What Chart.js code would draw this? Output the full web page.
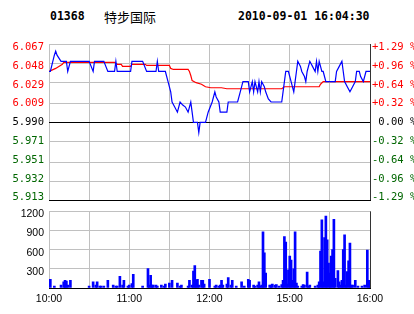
<!DOCTYPE html>
<html>
<head>
<meta charset="utf-8">
<script src="https://cdn.jsdelivr.net/npm/chart.js@4/dist/chart.umd.min.js"></script>
<style>
  html, body { margin: 0; padding: 0; background: #fff; }
  #wrap { position: relative; width: 414px; height: 314px; overflow: hidden; }
  #wrap canvas { position: absolute; left: 0; }
  #priceChart { top: 0; }
  #volChart { top: 200px; }
  .head { position: absolute; top: 9px; font: bold 11.5px "DejaVu Sans Mono", monospace; color: #000; white-space: pre; }
  .name { top: 7px; font: 13px "Noto Sans CJK SC", sans-serif; }
</style>
</head>
<body>
<div id="wrap">
  <span class="head" style="left:50px">01368</span>
  <span class="head name" style="left:104px">特步国际</span>
  <span class="head" style="left:238px">2010-09-01 16:04:30</span>
  <canvas id="priceChart" width="414" height="212"></canvas>
  <canvas id="volChart" width="414" height="114"></canvas>
</div>
<script>
(function(){
  'use strict';

  // previous close and axis labels (bottom to top)
  const preClose = 5.99;
  const priceLabels = ['5.913', '5.932', '5.951', '5.971', '5.990', '6.009', '6.029', '6.048', '6.067'];
  const pctLabels = ['-1.29 %', '-0.96 %', '-0.64 %', '-0.32 %', ' 0.00 %', '+0.32 %', '+0.64 %', '+0.96 %', '+1.29 %'];
  const volMax = 1200;
  const timeLabels = ['10:00', '11:00', '12:00', '15:00', '16:00'];
  const timeTicks = [0, 60, 120, 180, 240];

  // minute index (0 = 10:00, 150 = 12:30/14:30, 240 = 16:00) and price
  const priceIdx = [0, 1, 4, 5, 6, 9, 13, 14, 16, 30, 33, 34, 41, 44, 49, 50, 51, 61, 62, 70,
    73, 80, 81, 82, 87, 89, 91, 92, 94, 96, 98, 100, 102, 104, 106, 107, 108, 111, 112, 113,
    117, 119, 122, 124, 125, 127, 128, 133, 134, 141, 143, 145, 149, 150, 152, 153, 154, 156, 157, 158,
    159, 161, 162, 164, 166, 174, 175, 176, 177, 179, 181, 183, 184, 185, 186, 188, 189, 191, 192, 193,
    195, 197, 199, 200, 201, 202, 204, 205, 207, 214, 215, 217, 219, 220, 221, 223, 225, 227, 229, 230,
    232, 233, 235, 237, 240];
  const priceVal = [6.04, 6.04, 6.056, 6.06, 6.056, 6.05, 6.05, 6.04, 6.05, 6.05, 6.04, 6.05, 6.05, 6.04, 6.04, 6.05, 6.04, 6.04, 6.05, 6.05,
    6.04, 6.04, 6.05, 6.04, 6.04, 6.03, 6.02, 6.01, 6.005, 6.00, 6.01, 6.007, 6.005, 6.00, 6.01, 6.00, 5.99, 5.99, 5.98, 5.99,
    5.99, 6.00, 6.01, 6.02, 6.015, 6.01, 6.00, 6.00, 6.01, 6.01, 6.02, 6.03, 6.03, 6.02, 6.03, 6.02, 6.03, 6.02, 6.03, 6.02,
    6.03, 6.025, 6.02, 6.013, 6.01, 6.01, 6.02, 6.03, 6.04, 6.04, 6.03, 6.02, 6.03, 6.04, 6.05, 6.045, 6.04, 6.035, 6.03, 6.04,
    6.05, 6.045, 6.04, 6.05, 6.04, 6.05, 6.04, 6.04, 6.03, 6.03, 6.04, 6.045, 6.05, 6.04, 6.03, 6.025, 6.02, 6.025, 6.03, 6.04,
    6.04, 6.035, 6.03, 6.04, 6.04];

  // average price
  const avgIdx = [0, 5, 10, 11, 49, 51, 54, 55, 61, 62, 72, 73, 90, 91, 93, 104, 105, 106, 107, 110,
    114, 117, 121, 129, 133, 174, 175, 176, 202, 203, 205, 240];
  const avgVal = [6.040, 6.043, 6.047, 6.049, 6.049, 6.047, 6.047, 6.045, 6.045, 6.047, 6.047, 6.046, 6.046, 6.043, 6.042, 6.042, 6.040, 6.036, 6.031, 6.029,
    6.0275, 6.025, 6.024, 6.024, 6.023, 6.023, 6.024, 6.025, 6.025, 6.0275, 6.030, 6.030];

  // volume per minute
  const volIdx = [1, 4, 9, 11, 12, 13, 14, 16, 30, 33, 35, 36, 38, 39, 41, 44, 48, 50, 51, 53,
    55, 56, 59, 60, 62, 63, 70, 74, 75, 76, 77, 78, 80, 81, 84, 86, 87, 90, 92, 96,
    98, 99, 104, 105, 107, 108, 109, 110, 111, 112, 114, 115, 116, 120, 124, 125, 127, 128, 129, 130,
    133, 134, 136, 137, 140, 144, 146, 149, 150, 153, 154, 156, 157, 158, 159, 160, 161, 162, 165, 166,
    167, 169, 170, 172, 174, 175, 176, 177, 178, 179, 180, 181, 182, 183, 184, 185, 186, 189, 190, 191,
    193, 194, 195, 199, 201, 202, 203, 204, 205, 206, 207, 208, 209, 210, 211, 212, 213, 214, 216, 217,
    218, 219, 220, 221, 222, 223, 224, 225, 226, 227, 229, 231, 234, 236, 238, 239, 240];
  const volVal = [137, 30, 45, 95, 120, 110, 45, 120, 30, 95, 45, 95, 30, 30, 30, 120, 45, 30, 30, 182,
    45, 120, 30, 45, 71, 213, 30, 304, 45, 198, 45, 45, 45, 30, 45, 30, 60, 76, 120, 76,
    30, 45, 30, 120, 45, 263, 350, 120, 137, 45, 120, 120, 60, 137, 30, 45, 30, 45, 120, 45,
    60, 162, 45, 120, 30, 95, 30, 137, 120, 45, 30, 45, 95, 30, 45, 880, 552, 233, 45, 45,
    60, 45, 55, 30, 55, 120, 805, 720, 60, 284, 500, 435, 120, 299, 880, 76, 30, 30, 55, 45,
    248, 30, 45, 30, 45, 95, 577, 1068, 95, 790, 1124, 755, 390, 233, 500, 603, 1074, 150, 274, 95,
    45, 120, 603, 831, 45, 258, 425, 703, 45, 45, 120, 30, 30, 45, 592, 120, 95];

  const gridGrey = '#c0c0c0';
  const monoFont = { family: 'DejaVu Sans Mono', size: 10.5 };
  const sansFont = { family: 'Liberation Sans', size: 10.5 };

  function labelColor(i) {
    if (i > 4) return '#ff0000';
    if (i < 4) return '#006600';
    return '#000000';
  }

  function points(xs, ys) {
    return xs.map((x, i) => ({ x: x, y: ys[i] }));
  }

  function timeAxis(showLabels) {
    return {
      type: 'linear',
      min: 0,
      max: 240,
      offset: false,
      grid: {
        offset: false,
        drawTicks: false,
        color: (ctx) => ctx.tick && ctx.tick.value === 240 ? '#333333' : gridGrey
      },
      border: { display: true, color: '#000000' },
      ticks: {
        display: showLabels,
        stepSize: 30,
        autoSkip: false,
        maxRotation: 0,
        padding: 5,
        color: '#000000',
        font: sansFont,
        callback: (v) => {
          const k = timeTicks.indexOf(v);
          return k >= 0 ? timeLabels[k] : '';
        }
      },
      afterFit: (s) => { s.height = showLabels ? 26 : 0; }
    };
  }

  // labels sit on a slightly squeezed scale so the end ones stay inside the panel
  function labelAxis(position, labels, width, padding) {
    return {
      position: position,
      min: -0.16,
      max: 8.18,
      afterBuildTicks: (s) => { s.ticks = labels.map((l, i) => ({ value: i })); },
      grid: { display: false, drawTicks: false },
      border: { display: false },
      ticks: {
        padding: padding,
        font: monoFont,
        color: (ctx) => labelColor(ctx.index),
        callback: (v) => labels[v]
      },
      afterFit: (s) => { s.width = width; }
    };
  }

  new Chart(document.getElementById('priceChart'), {
    type: 'line',
    data: {
      datasets: [{
        data: points(priceIdx, priceVal),
        borderColor: '#0000ff',
        borderWidth: 1.2,
        pointRadius: 0,
        tension: 0,
        yAxisID: 'price'
      }, {
        data: points(avgIdx, avgVal),
        borderColor: '#ff0000',
        borderWidth: 1.2,
        pointRadius: 0,
        tension: 0,
        yAxisID: 'price'
      }]
    },
    options: {
      responsive: false,
      animation: false,
      devicePixelRatio: 1,
      layout: { padding: { top: 44, bottom: 9, left: 0, right: 0 } },
      plugins: { legend: { display: false }, tooltip: { enabled: false } },
      scales: {
        x: timeAxis(false),
        price: {
          position: 'left',
          min: parseFloat(priceLabels[0]),
          max: parseFloat(priceLabels[priceLabels.length - 1]),
          afterBuildTicks: (s) => { s.ticks = priceLabels.map((l) => ({ value: parseFloat(l) })); },
          grid: {
            drawTicks: false,
            color: (ctx) => (ctx.index === 0 || ctx.index === 4) ? '#000000' : gridGrey
          },
          border: { display: false },
          ticks: { display: false },
          afterFit: (s) => { s.width = 0; }
        },
        lblL: labelAxis('left', priceLabels, 49, 5),
        lblR: labelAxis('right', pctLabels, 44, 2)
      }
    }
  });

  new Chart(document.getElementById('volChart'), {
    type: 'bar',
    data: {
      datasets: [{
        data: points(volIdx, volVal),
        backgroundColor: '#0000ff',
        barThickness: 2
      }]
    },
    options: {
      responsive: false,
      animation: false,
      devicePixelRatio: 1,
      layout: { padding: { top: 9, bottom: 0, left: 0, right: 44 } },
      plugins: { legend: { display: false }, tooltip: { enabled: false } },
      scales: {
        x: timeAxis(true),
        y: {
          position: 'left',
          min: 0,
          max: volMax,
          grid: { drawTicks: false, color: gridGrey },
          border: { display: false },
          ticks: {
            stepSize: 300,
            padding: 5,
            labelOffset: 3,
            color: '#000000',
            font: sansFont,
            callback: (v) => v === 0 ? '' : v
          },
          afterFit: (s) => { s.width = 49; }
        }
      }
    }
  });

}());
</script>
</body>
</html>
